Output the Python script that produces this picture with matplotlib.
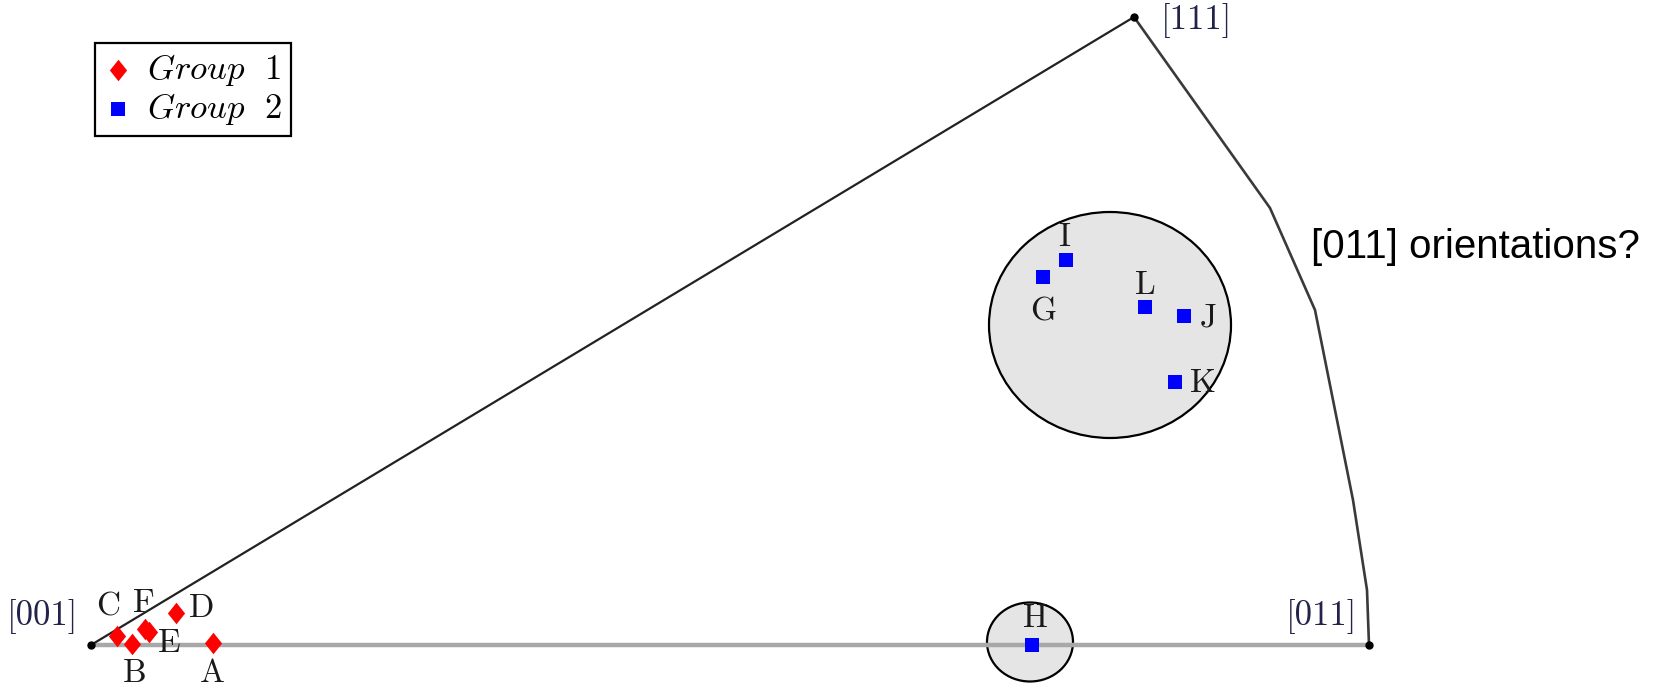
import matplotlib
matplotlib.use('Agg')
import matplotlib.pyplot as plt
from matplotlib.patches import Ellipse

plt.rcParams['mathtext.fontset'] = 'cm'

# standard triangle in page coordinates (x right, y down)
corner_names = ['[001]', '[011]', '[111]']
corner_x = [91, 1369, 1134]
corner_y = [645, 645, 17]

# [011]-[111] arc
arc_x = [1134, 1270, 1315, 1333, 1353, 1367, 1369]
arc_y = [17, 208, 310, 400, 500, 590, 645]

# group 1 orientations
g1_names = ['A', 'B', 'C', 'D', 'E', 'F']
g1_x = [213, 132, 117, 176, 149, 145]
g1_y = [643, 644, 636, 613, 632, 629]

# group 2 orientations
g2_names = ['G', 'H', 'I', 'J', 'K', 'L']
g2_x = [1043, 1032, 1066, 1184, 1175, 1145]
g2_y = [277, 645, 260, 316, 382, 307]

# label offsets (dx, dy)
lab_dx = {'A': -1, 'B': 3, 'C': -9, 'D': 26, 'E': 20, 'F': -1,
          'G': 0, 'H': 3, 'I': -2, 'J': 24, 'K': 28, 'L': 0}
lab_dy = {'A': 30, 'B': 29, 'C': -29, 'D': -5, 'E': 11, 'F': -26,
          'G': 35, 'H': -27, 'I': -23, 'J': 2, 'K': 1, 'L': -22}

diamond = [(0, 0.5), (0.4, 0), (0, -0.5), (-0.4, 0), (0, 0.5)]

fig = plt.figure(figsize=(16.59, 6.92), dpi=100)
ax = fig.add_axes([0, 0, 1, 1])
ax.set_xlim(0, 1659)
ax.set_ylim(692, 0)
ax.axis('off')

# highlighted clusters
ax.add_patch(Ellipse((1110, 325), 242, 226, facecolor='#e5e5e5', edgecolor='black', lw=1.6, zorder=1))
ax.add_patch(Ellipse((1030, 642), 86, 79, facecolor='#e5e5e5', edgecolor='black', lw=1.6, zorder=1))

# triangle edges
ax.plot([corner_x[0], corner_x[1]], [corner_y[0], corner_y[1]], color='#a8a8a8', lw=3.2, zorder=2)
ax.plot([corner_x[0], corner_x[2]], [corner_y[0], corner_y[2]], color='#222222', lw=1.6, zorder=2)
ax.plot(arc_x, arc_y, color='#3a3a3a', lw=1.9, zorder=2)
ax.plot(corner_x, corner_y, 'o', color='black', ms=5, zorder=3)

ax.scatter(g1_x, g1_y, marker=diamond, s=240, color='red', linewidths=0, zorder=4, label='$Group\\ \\ 1$')
ax.scatter(g2_x, g2_y, marker='s', s=90, color='blue', linewidths=0, zorder=4, label='$Group\\ \\ 2$')

for n, x, y in zip(g1_names + g2_names, g1_x + g2_x, g1_y + g2_y):
    ax.text(x + lab_dx[n], y + lab_dy[n], n, fontfamily='cmr10', fontsize=24,
            ha='center', va='center', color='#1a1a1a', zorder=5)

ax.text(43, 617, corner_names[0], fontfamily='cmr10', fontsize=25, ha='center', va='center', color='#22224a')
ax.text(1322, 617, corner_names[1], fontfamily='cmr10', fontsize=25, ha='center', va='center', color='#22224a')
ax.text(1197, 21, corner_names[2], fontfamily='cmr10', fontsize=25, ha='center', va='center', color='#22224a')

ax.text(1311, 247, '[011] orientations?', fontfamily='Liberation Sans', fontsize=29,
        ha='left', va='center', color='black')

leg = ax.legend(loc='upper left', bbox_to_anchor=(95 / 1659, 1 - 43 / 692), fontsize=25,
                frameon=True, fancybox=False, edgecolor='black', framealpha=1,
                handletextpad=0.45, handlelength=0.8, borderpad=0.25, labelspacing=0.1,
                borderaxespad=0, markerscale=1.0)
leg.get_frame().set_linewidth(1.6)

fig.savefig('out.png', dpi=100)
